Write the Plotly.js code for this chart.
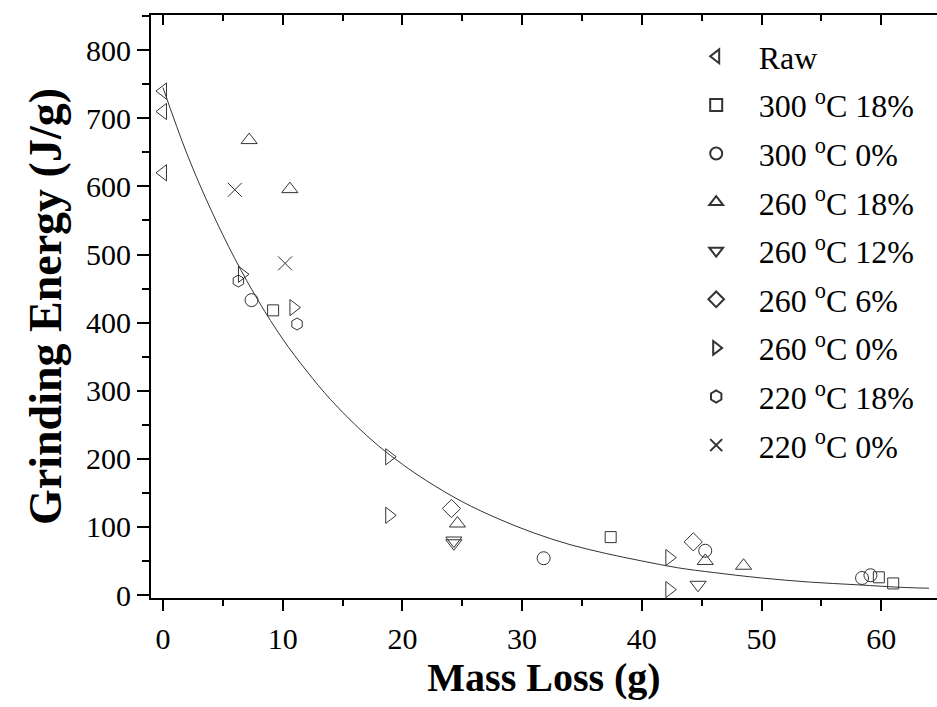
<!DOCTYPE html>
<html>
<head>
<meta charset="utf-8">
<script src="https://cdn.plot.ly/plotly-3.0.1.min.js"></script>
<style>html,body{margin:0;padding:0;background:#fff;}#chart{width:937px;height:707px;}</style>
</head>
<body>
<div id="chart"></div>
<script>
// Series names (legend labels)
const seriesNames = ["Raw", "300 <sup>o</sup>C 18%", "300 <sup>o</sup>C 0%", "260 <sup>o</sup>C 18%",
  "260 <sup>o</sup>C 12%", "260 <sup>o</sup>C 6%", "260 <sup>o</sup>C 0%", "220 <sup>o</sup>C 18%", "220 <sup>o</sup>C 0%"];

// Mass loss (g) and grinding energy (J/g) per series
const rawX = [0, 0, 0];
const rawY = [740, 710, 620];
const s300_18X = [9.2, 37.4, 59.8, 61.0];
const s300_18Y = [418, 85, 26, 17];
const s300_0X = [7.4, 31.8, 45.3, 58.4, 59.1];
const s300_0Y = [433, 54, 65, 25, 29];
const s260_18X = [7.2, 10.6, 24.6, 45.3, 48.5];
const s260_18Y = [668, 596, 105, 50, 43];
const s260_12X = [24.3, 24.3, 44.7];
const s260_12Y = [80, 76, 15];
const s260_6X = [24.1, 44.3];
const s260_6Y = [127, 78];
const s260_0X = [6.6, 10.9, 18.9, 18.9, 42.3, 42.3];
const s260_0Y = [471, 422, 203, 117, 55, 8];
const s220_18X = [6.3, 11.2];
const s220_18Y = [461, 398];
const s220_0X = [6.0, 10.2];
const s220_0Y = [595, 487];

// Fitted decay curve
const fitX = [0, 2, 4, 6, 8, 10, 12, 14, 16, 18, 20, 22, 25, 28, 31, 34, 37, 40, 43, 46, 50, 54, 58, 62, 64];
const fitY = [745, 648, 566, 494, 431, 376, 329, 287, 251, 219, 192, 168, 137, 112, 91, 74, 61, 50, 40, 33, 25, 19, 15, 11, 10];

const xs = [rawX, s300_18X, s300_0X, s260_18X, s260_12X, s260_6X, s260_0X, s220_18X, s220_0X];
const ys = [rawY, s300_18Y, s300_0Y, s260_18Y, s260_12Y, s260_6Y, s260_0Y, s220_18Y, s220_0Y];
const symbols = ["triangle-left-open", "square-open", "circle-open", "triangle-up-open", "triangle-down-open",
  "diamond-open", "triangle-right-open", "hexagon-open", "x-thin-open"];
const sizes = [14, 11, 13, 14, 14, 14, 14, 12, 14];

const traces = [];
for (let i = 0; i < seriesNames.length; i++) {
  traces.push({
    type: "scatter", mode: "markers", name: seriesNames[i], x: xs[i], y: ys[i],
    legendgroup: "g" + i,
    marker: {symbol: symbols[i], size: sizes[i], color: "#333", line: {color: "#333", width: 1}},
    cliponaxis: false
  });
}
traces.push({
  type: "scatter", mode: "lines", x: fitX, y: fitY, showlegend: false,
  line: {color: "#333", width: 1, shape: "spline"}
});
// invisible trace for top axis
traces.push({type: "scatter", mode: "markers", x: [0], y: [0], xaxis: "x2", yaxis: "y",
  marker: {opacity: 0}, showlegend: false, hoverinfo: "skip"});

const fontFam = "Liberation Serif, Times New Roman, serif";
const layout = {
  width: 937, height: 707,
  margin: {l: 151, r: 0, t: 15, b: 109},
  paper_bgcolor: "#fff", plot_bgcolor: "#fff",
  font: {family: fontFam, color: "#000", size: 30},
  showlegend: true,
  legend: {
    x: 0.665, y: 0.976, xanchor: "left", yanchor: "top",
    font: {family: fontFam, size: 32, color: "#000"},
    itemwidth: 75, itemsizing: "constant", traceorder: "grouped", tracegroupgap: 4,
    bgcolor: "rgba(0,0,0,0)"
  },
  xaxis: {
    range: [-1.0, 64.66], showgrid: false, zeroline: false,
    showline: true, linecolor: "#000", linewidth: 2,
    ticks: "outside", ticklen: 11, tickwidth: 2, tickcolor: "#000", dtick: 10, tick0: 0,
    ticklabelstandoff: 2,
    minor: {ticks: "outside", ticklen: 6, tickwidth: 2, tickcolor: "#000", dtick: 5, tick0: 0},
    tickfont: {family: fontFam, size: 30, color: "#000"},
    title: {text: "<b>Mass Loss (g)</b>", font: {family: fontFam, size: 40, color: "#000"}, standoff: 8}
  },
  xaxis2: {
    overlaying: "x", side: "top", range: [-1.0, 64.66], showgrid: false, zeroline: false,
    showline: true, linecolor: "#000", linewidth: 2, showticklabels: false,
    ticks: "inside", ticklen: 10, tickwidth: 2, tickcolor: "#000", dtick: 10, tick0: 0,
    minor: {ticks: "inside", ticklen: 6, tickwidth: 2, tickcolor: "#000", dtick: 5, tick0: 0}
  },
  yaxis: {
    range: [-4.4, 851.7], showgrid: false, zeroline: false,
    showline: true, linecolor: "#000", linewidth: 2,
    ticks: "outside", ticklen: 12, tickwidth: 2, tickcolor: "#000", dtick: 100, tick0: 0,
    minor: {ticks: "outside", ticklen: 7, tickwidth: 2, tickcolor: "#000", dtick: 50, tick0: 0},
    tickfont: {family: fontFam, size: 30, color: "#000"},
    title: {text: "<b>Grinding Energy (J/g)</b>", font: {family: fontFam, size: 46, color: "#000"}, standoff: 10}
  }
};
Plotly.newPlot("chart", traces, layout, {displayModeBar: false, staticPlot: true});
</script>
</body>
</html>
